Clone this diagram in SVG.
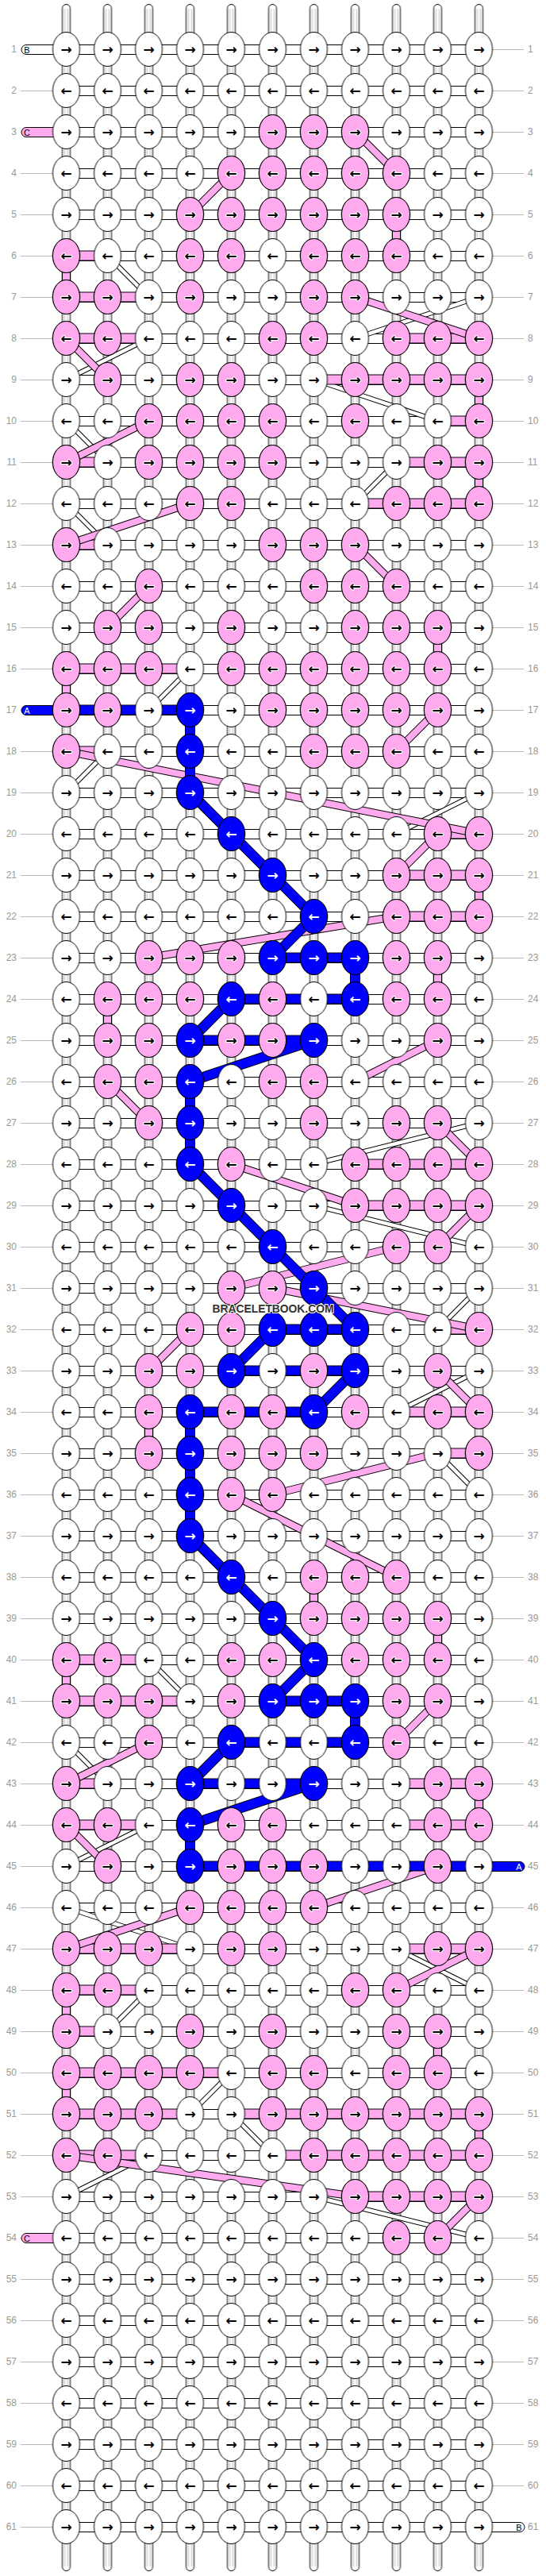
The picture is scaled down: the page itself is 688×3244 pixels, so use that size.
<svg xmlns="http://www.w3.org/2000/svg" width="688" height="3244" viewBox="0 0 688 3244">
<style>
.p{fill:#ffaaee}
.b{fill:#0000ff}
.ar{font-family:"DejaVu Sans",sans-serif;font-weight:bold;font-size:17px;text-anchor:middle;dominant-baseline:central;fill:#000;stroke:#fff;stroke-width:2px;paint-order:stroke}
.wa{fill:#fff;stroke:none}
.lb text{font-family:"Liberation Sans",Arial,sans-serif;font-size:12px;fill:#999;dominant-baseline:central}
.lb .le{text-anchor:end}
.sl{font-family:"Liberation Sans",Arial,sans-serif;font-size:11px;text-anchor:middle;dominant-baseline:central}
.wm{font-family:"Liberation Sans",Arial,sans-serif;font-weight:bold;font-size:15px;text-anchor:middle;dominant-baseline:central;fill:#333;stroke:#fff;stroke-width:2px;paint-order:stroke}
</style>
<defs>
<ellipse id="e" rx="17" ry="21.5" stroke="#000"/>
<pattern id="kp" x="57.5" y="-26" width="52" height="52" patternUnits="userSpaceOnUse"><ellipse cx="26" cy="26" rx="17" ry="21.5" fill="#fff" stroke="#000"/></pattern>
<rect id="kr" x="57.5" y="-26" width="572" height="52" fill="url(#kp)"/>
<pattern id="hpat" x="83.5" y="36" width="52" height="52" patternUnits="userSpaceOnUse"><rect y="20.5" width="52" height="12" fill="#fff"/><path d="M0 20.5H52M0 32.5H52" stroke="#000"/></pattern>
<pattern id="vpat" x="57.5" y="62" width="52" height="52" patternUnits="userSpaceOnUse"><rect x="21" width="10" height="52" fill="#fff"/><path d="M21 0V52M31 0V52" stroke="#000"/><path d="M24 0V52M28 0V52" stroke="#bbb"/></pattern>
<pattern id="tpat" x="57.5" y="0" width="52" height="60" patternUnits="userSpaceOnUse"><rect x="21" y="5.5" width="10" height="60" rx="5" fill="#fff" stroke="#000"/><path d="M24 11V60M28 11V60" stroke="#bbb"/></pattern>
<pattern id="bpat" x="57.5" y="3190" width="52" height="50" patternUnits="userSpaceOnUse"><rect x="21" y="-10" width="10" height="57.5" rx="5" fill="#fff" stroke="#000"/><path d="M24 0V42M28 0V42" stroke="#bbb"/></pattern>
<pattern id="lpat" x="0" y="36" width="688" height="52" patternUnits="userSpaceOnUse"><path d="M26 26.5H68M620 26.5H660" stroke="#bbb"/></pattern>
<path id="dw" d="M135.5 322L187.5 374M447.5 426L603.5 374M83.5 478L187.5 426M395.5 478L551.5 530M83.5 530L135.5 582M499.5 582L447.5 634M83.5 634L135.5 686M239.5 842L187.5 894M135.5 946L83.5 998M499.5 1050L603.5 998M395.5 1466L603.5 1414M395.5 1518L603.5 1570M603.5 1622L551.5 1674M499.5 1778L603.5 1726M551.5 1830L603.5 1882M187.5 2090L239.5 2142M83.5 2194L135.5 2246M83.5 2350L187.5 2298M83.5 2402L239.5 2454M499.5 2454L603.5 2506M187.5 2506L135.5 2558M291.5 2610L239.5 2662M291.5 2662L343.5 2714M83.5 2766L187.5 2714M395.5 2766L603.5 2818"/>
<path id="ph" d="M83.5 322H135.5M83.5 374H187.5M83.5 426H187.5M499.5 426H603.5M395.5 478H603.5M551.5 530H603.5M83.5 582H135.5M499.5 582H603.5M447.5 634H603.5M83.5 686H135.5M83.5 842H239.5M83.5 946H135.5M551.5 1050H603.5M499.5 1102H603.5M499.5 1154H603.5M447.5 1466H603.5M447.5 1518H603.5M551.5 1674H603.5M499.5 1778H603.5M551.5 1830H603.5M83.5 2090H187.5M83.5 2142H239.5M83.5 2246H135.5M499.5 2246H603.5M83.5 2298H187.5M499.5 2298H603.5M83.5 2454H239.5M499.5 2454H603.5M83.5 2506H187.5M83.5 2558H135.5M83.5 2610H291.5M83.5 2662H239.5M291.5 2662H603.5M83.5 2714H187.5M343.5 2714H603.5M447.5 2766H603.5"/>
<path id="pv" d="M499.5 270V322M83.5 322V374M603.5 478V530M603.5 582V634M551.5 790V842M83.5 842V894M603.5 1102V1154M551.5 1206V1258M135.5 1258V1310M187.5 1778V1830M395.5 1986V2038M551.5 2038V2090M83.5 2090V2142M603.5 2246V2298M83.5 2506V2558M551.5 2558V2610M83.5 2610V2662M603.5 2662V2714"/>
<path id="pd" d="M447.5 166L499.5 218M239.5 270L291.5 218M447.5 374L603.5 426M83.5 426L135.5 478M187.5 530L83.5 582M239.5 634L83.5 686M447.5 686L499.5 738M187.5 738L135.5 790M551.5 894L499.5 946M83.5 946L603.5 1050M551.5 1050L499.5 1102M499.5 1154L187.5 1206M551.5 1310L447.5 1362M135.5 1362L187.5 1414M551.5 1414L603.5 1466M291.5 1466L447.5 1518M603.5 1518L551.5 1570M499.5 1570L291.5 1622M343.5 1622L603.5 1674M239.5 1674L187.5 1726M551.5 1726L603.5 1778M551.5 1830L343.5 1882M291.5 1882L395.5 1934M395.5 1934L499.5 1986M551.5 2142L499.5 2194M187.5 2194L83.5 2246M83.5 2298L135.5 2350M551.5 2350L395.5 2402M239.5 2402L83.5 2454M603.5 2454L499.5 2506M83.5 2714L447.5 2766M603.5 2766L551.5 2818"/>
<path id="bl" d="M83.5 894H239.5M343.5 1206H447.5M291.5 1258H447.5M239.5 1310H395.5M343.5 1674H447.5M291.5 1726H447.5M239.5 1778H395.5M343.5 2142H447.5M291.5 2194H447.5M239.5 2246H395.5M239.5 2350H603.5M239.5 894V998M239.5 1362V1466M239.5 1778V1934M239.5 2298V2350M447.5 1206V1258M447.5 2142V2194M239.5 998L291.5 1050L343.5 1102L395.5 1154L343.5 1206M291.5 1258L239.5 1310M395.5 1310L239.5 1362M239.5 1466L291.5 1518L343.5 1570L395.5 1622L447.5 1674M343.5 1674L291.5 1726M447.5 1726L395.5 1778M239.5 1934L291.5 1986L343.5 2038L395.5 2090L343.5 2142M291.5 2194L239.5 2246M395.5 2246L239.5 2298"/>
</defs>
<rect width="688" height="3244" fill="#fff"/>
<g id="connectors" fill="none">
<rect x="0" y="36" width="688" height="3172" fill="url(#lpat)"/>
<rect x="57.5" y="0" width="572" height="50" fill="url(#tpat)"/>
<rect x="57.5" y="62" width="572" height="3120" fill="url(#vpat)"/>
<rect x="57.5" y="3190" width="572" height="50" fill="url(#bpat)"/>
<rect x="83.5" y="36" width="520" height="3172" fill="url(#hpat)"/>
<use href="#dw" stroke="#000" stroke-width="6.5"/>
<use href="#dw" stroke="#fff" stroke-width="4.5"/>
<use href="#ph" stroke="#000" stroke-width="13"/>
<use href="#ph" stroke="#ffaaee" stroke-width="11"/>
<use href="#pv" stroke="#000" stroke-width="11"/>
<use href="#pv" stroke="#ffaaee" stroke-width="9"/>
<use href="#pd" stroke="#000" stroke-width="10"/>
<use href="#pd" stroke="#ffaaee" stroke-width="8"/>
<use href="#bl" stroke="#000" stroke-width="13" stroke-linejoin="round"/>
<use href="#bl" stroke="#0000ff" stroke-width="11" stroke-linejoin="round"/>
</g>
<g id="strands">
<rect x="27" y="56.5" width="50" height="12" rx="6" fill="#fff" stroke="#000"/><text class="sl" x="34" y="62.5">B</text>
<rect x="27" y="160.5" width="50" height="12" rx="6" fill="#ffaaee" stroke="#000"/><text class="sl" x="34" y="166.5">C</text>
<rect x="27" y="888.5" width="50" height="12" rx="6" fill="#0000ff" stroke="#000"/><text class="sl" x="34" y="894.5" fill="#fff">A</text>
<rect x="27" y="2812.5" width="50" height="12" rx="6" fill="#ffaaee" stroke="#000"/><text class="sl" x="34" y="2818.5">C</text>
<rect x="611" y="2344.5" width="50" height="12" rx="6" fill="#0000ff" stroke="#000"/><text class="sl" x="654" y="2350.5" fill="#fff">A</text>
<rect x="611" y="3176.5" width="50" height="12" rx="6" fill="#fff" stroke="#000"/><text class="sl" x="654" y="3182.5">B</text>
</g>
<g id="labels" class="lb">
<text class="le" x="21" y="62">1</text><text x="665" y="62">1</text>
<text class="le" x="21" y="114">2</text><text x="665" y="114">2</text>
<text class="le" x="21" y="166">3</text><text x="665" y="166">3</text>
<text class="le" x="21" y="218">4</text><text x="665" y="218">4</text>
<text class="le" x="21" y="270">5</text><text x="665" y="270">5</text>
<text class="le" x="21" y="322">6</text><text x="665" y="322">6</text>
<text class="le" x="21" y="374">7</text><text x="665" y="374">7</text>
<text class="le" x="21" y="426">8</text><text x="665" y="426">8</text>
<text class="le" x="21" y="478">9</text><text x="665" y="478">9</text>
<text class="le" x="21" y="530">10</text><text x="665" y="530">10</text>
<text class="le" x="21" y="582">11</text><text x="665" y="582">11</text>
<text class="le" x="21" y="634">12</text><text x="665" y="634">12</text>
<text class="le" x="21" y="686">13</text><text x="665" y="686">13</text>
<text class="le" x="21" y="738">14</text><text x="665" y="738">14</text>
<text class="le" x="21" y="790">15</text><text x="665" y="790">15</text>
<text class="le" x="21" y="842">16</text><text x="665" y="842">16</text>
<text class="le" x="21" y="894">17</text><text x="665" y="894">17</text>
<text class="le" x="21" y="946">18</text><text x="665" y="946">18</text>
<text class="le" x="21" y="998">19</text><text x="665" y="998">19</text>
<text class="le" x="21" y="1050">20</text><text x="665" y="1050">20</text>
<text class="le" x="21" y="1102">21</text><text x="665" y="1102">21</text>
<text class="le" x="21" y="1154">22</text><text x="665" y="1154">22</text>
<text class="le" x="21" y="1206">23</text><text x="665" y="1206">23</text>
<text class="le" x="21" y="1258">24</text><text x="665" y="1258">24</text>
<text class="le" x="21" y="1310">25</text><text x="665" y="1310">25</text>
<text class="le" x="21" y="1362">26</text><text x="665" y="1362">26</text>
<text class="le" x="21" y="1414">27</text><text x="665" y="1414">27</text>
<text class="le" x="21" y="1466">28</text><text x="665" y="1466">28</text>
<text class="le" x="21" y="1518">29</text><text x="665" y="1518">29</text>
<text class="le" x="21" y="1570">30</text><text x="665" y="1570">30</text>
<text class="le" x="21" y="1622">31</text><text x="665" y="1622">31</text>
<text class="le" x="21" y="1674">32</text><text x="665" y="1674">32</text>
<text class="le" x="21" y="1726">33</text><text x="665" y="1726">33</text>
<text class="le" x="21" y="1778">34</text><text x="665" y="1778">34</text>
<text class="le" x="21" y="1830">35</text><text x="665" y="1830">35</text>
<text class="le" x="21" y="1882">36</text><text x="665" y="1882">36</text>
<text class="le" x="21" y="1934">37</text><text x="665" y="1934">37</text>
<text class="le" x="21" y="1986">38</text><text x="665" y="1986">38</text>
<text class="le" x="21" y="2038">39</text><text x="665" y="2038">39</text>
<text class="le" x="21" y="2090">40</text><text x="665" y="2090">40</text>
<text class="le" x="21" y="2142">41</text><text x="665" y="2142">41</text>
<text class="le" x="21" y="2194">42</text><text x="665" y="2194">42</text>
<text class="le" x="21" y="2246">43</text><text x="665" y="2246">43</text>
<text class="le" x="21" y="2298">44</text><text x="665" y="2298">44</text>
<text class="le" x="21" y="2350">45</text><text x="665" y="2350">45</text>
<text class="le" x="21" y="2402">46</text><text x="665" y="2402">46</text>
<text class="le" x="21" y="2454">47</text><text x="665" y="2454">47</text>
<text class="le" x="21" y="2506">48</text><text x="665" y="2506">48</text>
<text class="le" x="21" y="2558">49</text><text x="665" y="2558">49</text>
<text class="le" x="21" y="2610">50</text><text x="665" y="2610">50</text>
<text class="le" x="21" y="2662">51</text><text x="665" y="2662">51</text>
<text class="le" x="21" y="2714">52</text><text x="665" y="2714">52</text>
<text class="le" x="21" y="2766">53</text><text x="665" y="2766">53</text>
<text class="le" x="21" y="2818">54</text><text x="665" y="2818">54</text>
<text class="le" x="21" y="2870">55</text><text x="665" y="2870">55</text>
<text class="le" x="21" y="2922">56</text><text x="665" y="2922">56</text>
<text class="le" x="21" y="2974">57</text><text x="665" y="2974">57</text>
<text class="le" x="21" y="3026">58</text><text x="665" y="3026">58</text>
<text class="le" x="21" y="3078">59</text><text x="665" y="3078">59</text>
<text class="le" x="21" y="3130">60</text><text x="665" y="3130">60</text>
<text class="le" x="21" y="3182">61</text><text x="665" y="3182">61</text>
</g>
<g id="knots">
<g id="row1" transform="translate(0 62)"><use href="#kr"/><text class="ar" x="83.5 135.5 187.5 239.5 291.5 343.5 395.5 447.5 499.5 551.5 603.5">→→→→→→→→→→→</text></g>
<g id="row2" transform="translate(0 114)"><use href="#kr"/><text class="ar" x="83.5 135.5 187.5 239.5 291.5 343.5 395.5 447.5 499.5 551.5 603.5">←←←←←←←←←←←</text></g>
<g id="row3" transform="translate(0 166)"><use href="#kr"/><use href="#e" x="343.5" class="p"/><use href="#e" x="395.5" class="p"/><use href="#e" x="447.5" class="p"/><text class="ar" x="83.5 135.5 187.5 239.5 291.5 343.5 395.5 447.5 499.5 551.5 603.5">→→→→→→→→→→→</text></g>
<g id="row4" transform="translate(0 218)"><use href="#kr"/><use href="#e" x="291.5" class="p"/><use href="#e" x="343.5" class="p"/><use href="#e" x="395.5" class="p"/><use href="#e" x="447.5" class="p"/><use href="#e" x="499.5" class="p"/><text class="ar" x="83.5 135.5 187.5 239.5 291.5 343.5 395.5 447.5 499.5 551.5 603.5">←←←←←←←←←←←</text></g>
<g id="row5" transform="translate(0 270)"><use href="#kr"/><use href="#e" x="239.5" class="p"/><use href="#e" x="291.5" class="p"/><use href="#e" x="343.5" class="p"/><use href="#e" x="395.5" class="p"/><use href="#e" x="447.5" class="p"/><use href="#e" x="499.5" class="p"/><text class="ar" x="83.5 135.5 187.5 239.5 291.5 343.5 395.5 447.5 499.5 551.5 603.5">→→→→→→→→→→→</text></g>
<g id="row6" transform="translate(0 322)"><use href="#kr"/><use href="#e" x="83.5" class="p"/><use href="#e" x="239.5" class="p"/><use href="#e" x="291.5" class="p"/><use href="#e" x="395.5" class="p"/><use href="#e" x="447.5" class="p"/><use href="#e" x="499.5" class="p"/><text class="ar" x="83.5 135.5 187.5 239.5 291.5 343.5 395.5 447.5 499.5 551.5 603.5">←←←←←←←←←←←</text></g>
<g id="row7" transform="translate(0 374)"><use href="#kr"/><use href="#e" x="83.5" class="p"/><use href="#e" x="135.5" class="p"/><use href="#e" x="239.5" class="p"/><use href="#e" x="395.5" class="p"/><use href="#e" x="447.5" class="p"/><text class="ar" x="83.5 135.5 187.5 239.5 291.5 343.5 395.5 447.5 499.5 551.5 603.5">→→→→→→→→→→→</text></g>
<g id="row8" transform="translate(0 426)"><use href="#kr"/><use href="#e" x="83.5" class="p"/><use href="#e" x="135.5" class="p"/><use href="#e" x="343.5" class="p"/><use href="#e" x="395.5" class="p"/><use href="#e" x="499.5" class="p"/><use href="#e" x="551.5" class="p"/><use href="#e" x="603.5" class="p"/><text class="ar" x="83.5 135.5 187.5 239.5 291.5 343.5 395.5 447.5 499.5 551.5 603.5">←←←←←←←←←←←</text></g>
<g id="row9" transform="translate(0 478)"><use href="#kr"/><use href="#e" x="135.5" class="p"/><use href="#e" x="239.5" class="p"/><use href="#e" x="291.5" class="p"/><use href="#e" x="447.5" class="p"/><use href="#e" x="499.5" class="p"/><use href="#e" x="551.5" class="p"/><use href="#e" x="603.5" class="p"/><text class="ar" x="83.5 135.5 187.5 239.5 291.5 343.5 395.5 447.5 499.5 551.5 603.5">→→→→→→→→→→→</text></g>
<g id="row10" transform="translate(0 530)"><use href="#kr"/><use href="#e" x="187.5" class="p"/><use href="#e" x="239.5" class="p"/><use href="#e" x="291.5" class="p"/><use href="#e" x="343.5" class="p"/><use href="#e" x="447.5" class="p"/><use href="#e" x="603.5" class="p"/><text class="ar" x="83.5 135.5 187.5 239.5 291.5 343.5 395.5 447.5 499.5 551.5 603.5">←←←←←←←←←←←</text></g>
<g id="row11" transform="translate(0 582)"><use href="#kr"/><use href="#e" x="83.5" class="p"/><use href="#e" x="187.5" class="p"/><use href="#e" x="239.5" class="p"/><use href="#e" x="291.5" class="p"/><use href="#e" x="343.5" class="p"/><use href="#e" x="551.5" class="p"/><use href="#e" x="603.5" class="p"/><text class="ar" x="83.5 135.5 187.5 239.5 291.5 343.5 395.5 447.5 499.5 551.5 603.5">→→→→→→→→→→→</text></g>
<g id="row12" transform="translate(0 634)"><use href="#kr"/><use href="#e" x="239.5" class="p"/><use href="#e" x="291.5" class="p"/><use href="#e" x="499.5" class="p"/><use href="#e" x="551.5" class="p"/><use href="#e" x="603.5" class="p"/><text class="ar" x="83.5 135.5 187.5 239.5 291.5 343.5 395.5 447.5 499.5 551.5 603.5">←←←←←←←←←←←</text></g>
<g id="row13" transform="translate(0 686)"><use href="#kr"/><use href="#e" x="83.5" class="p"/><use href="#e" x="343.5" class="p"/><use href="#e" x="395.5" class="p"/><use href="#e" x="447.5" class="p"/><text class="ar" x="83.5 135.5 187.5 239.5 291.5 343.5 395.5 447.5 499.5 551.5 603.5">→→→→→→→→→→→</text></g>
<g id="row14" transform="translate(0 738)"><use href="#kr"/><use href="#e" x="187.5" class="p"/><use href="#e" x="395.5" class="p"/><use href="#e" x="447.5" class="p"/><use href="#e" x="499.5" class="p"/><text class="ar" x="83.5 135.5 187.5 239.5 291.5 343.5 395.5 447.5 499.5 551.5 603.5">←←←←←←←←←←←</text></g>
<g id="row15" transform="translate(0 790)"><use href="#kr"/><use href="#e" x="135.5" class="p"/><use href="#e" x="187.5" class="p"/><use href="#e" x="291.5" class="p"/><use href="#e" x="447.5" class="p"/><use href="#e" x="499.5" class="p"/><use href="#e" x="551.5" class="p"/><text class="ar" x="83.5 135.5 187.5 239.5 291.5 343.5 395.5 447.5 499.5 551.5 603.5">→→→→→→→→→→→</text></g>
<g id="row16" transform="translate(0 842)"><use href="#kr"/><use href="#e" x="83.5" class="p"/><use href="#e" x="135.5" class="p"/><use href="#e" x="187.5" class="p"/><use href="#e" x="291.5" class="p"/><use href="#e" x="343.5" class="p"/><use href="#e" x="395.5" class="p"/><use href="#e" x="447.5" class="p"/><use href="#e" x="499.5" class="p"/><use href="#e" x="551.5" class="p"/><text class="ar" x="83.5 135.5 187.5 239.5 291.5 343.5 395.5 447.5 499.5 551.5 603.5">←←←←←←←←←←←</text></g>
<g id="row17" transform="translate(0 894)"><use href="#kr"/><use href="#e" x="83.5" class="p"/><use href="#e" x="135.5" class="p"/><use href="#e" x="239.5" class="b"/><use href="#e" x="343.5" class="p"/><use href="#e" x="395.5" class="p"/><use href="#e" x="447.5" class="p"/><use href="#e" x="499.5" class="p"/><use href="#e" x="551.5" class="p"/><text class="ar" x="83.5 135.5 187.5 239.5 291.5 343.5 395.5 447.5 499.5 551.5 603.5">→→→<tspan class="wa">→</tspan>→→→→→→→</text></g>
<g id="row18" transform="translate(0 946)"><use href="#kr"/><use href="#e" x="83.5" class="p"/><use href="#e" x="239.5" class="b"/><use href="#e" x="395.5" class="p"/><use href="#e" x="447.5" class="p"/><use href="#e" x="499.5" class="p"/><text class="ar" x="83.5 135.5 187.5 239.5 291.5 343.5 395.5 447.5 499.5 551.5 603.5">←←←<tspan class="wa">←</tspan>←←←←←←←</text></g>
<g id="row19" transform="translate(0 998)"><use href="#kr"/><use href="#e" x="239.5" class="b"/><text class="ar" x="83.5 135.5 187.5 239.5 291.5 343.5 395.5 447.5 499.5 551.5 603.5">→→→<tspan class="wa">→</tspan>→→→→→→→</text></g>
<g id="row20" transform="translate(0 1050)"><use href="#kr"/><use href="#e" x="291.5" class="b"/><use href="#e" x="551.5" class="p"/><use href="#e" x="603.5" class="p"/><text class="ar" x="83.5 135.5 187.5 239.5 291.5 343.5 395.5 447.5 499.5 551.5 603.5">←←←←<tspan class="wa">←</tspan>←←←←←←</text></g>
<g id="row21" transform="translate(0 1102)"><use href="#kr"/><use href="#e" x="343.5" class="b"/><use href="#e" x="499.5" class="p"/><use href="#e" x="551.5" class="p"/><use href="#e" x="603.5" class="p"/><text class="ar" x="83.5 135.5 187.5 239.5 291.5 343.5 395.5 447.5 499.5 551.5 603.5">→→→→→<tspan class="wa">→</tspan>→→→→→</text></g>
<g id="row22" transform="translate(0 1154)"><use href="#kr"/><use href="#e" x="395.5" class="b"/><use href="#e" x="499.5" class="p"/><use href="#e" x="551.5" class="p"/><use href="#e" x="603.5" class="p"/><text class="ar" x="83.5 135.5 187.5 239.5 291.5 343.5 395.5 447.5 499.5 551.5 603.5">←←←←←←<tspan class="wa">←</tspan>←←←←</text></g>
<g id="row23" transform="translate(0 1206)"><use href="#kr"/><use href="#e" x="187.5" class="p"/><use href="#e" x="239.5" class="p"/><use href="#e" x="291.5" class="p"/><use href="#e" x="343.5" class="b"/><use href="#e" x="395.5" class="b"/><use href="#e" x="447.5" class="b"/><use href="#e" x="499.5" class="p"/><use href="#e" x="551.5" class="p"/><text class="ar" x="83.5 135.5 187.5 239.5 291.5 343.5 395.5 447.5 499.5 551.5 603.5">→→→→→<tspan class="wa">→→→</tspan>→→→</text></g>
<g id="row24" transform="translate(0 1258)"><use href="#kr"/><use href="#e" x="135.5" class="p"/><use href="#e" x="187.5" class="p"/><use href="#e" x="239.5" class="p"/><use href="#e" x="291.5" class="b"/><use href="#e" x="343.5" class="p"/><use href="#e" x="447.5" class="b"/><use href="#e" x="499.5" class="p"/><use href="#e" x="551.5" class="p"/><text class="ar" x="83.5 135.5 187.5 239.5 291.5 343.5 395.5 447.5 499.5 551.5 603.5">←←←←<tspan class="wa">←</tspan>←←<tspan class="wa">←</tspan>←←←</text></g>
<g id="row25" transform="translate(0 1310)"><use href="#kr"/><use href="#e" x="135.5" class="p"/><use href="#e" x="187.5" class="p"/><use href="#e" x="239.5" class="b"/><use href="#e" x="291.5" class="p"/><use href="#e" x="343.5" class="p"/><use href="#e" x="395.5" class="b"/><use href="#e" x="551.5" class="p"/><text class="ar" x="83.5 135.5 187.5 239.5 291.5 343.5 395.5 447.5 499.5 551.5 603.5">→→→<tspan class="wa">→</tspan>→→<tspan class="wa">→</tspan>→→→→</text></g>
<g id="row26" transform="translate(0 1362)"><use href="#kr"/><use href="#e" x="135.5" class="p"/><use href="#e" x="187.5" class="p"/><use href="#e" x="239.5" class="b"/><use href="#e" x="343.5" class="p"/><use href="#e" x="395.5" class="p"/><text class="ar" x="83.5 135.5 187.5 239.5 291.5 343.5 395.5 447.5 499.5 551.5 603.5">←←←<tspan class="wa">←</tspan>←←←←←←←</text></g>
<g id="row27" transform="translate(0 1414)"><use href="#kr"/><use href="#e" x="187.5" class="p"/><use href="#e" x="239.5" class="b"/><use href="#e" x="395.5" class="p"/><use href="#e" x="499.5" class="p"/><use href="#e" x="551.5" class="p"/><text class="ar" x="83.5 135.5 187.5 239.5 291.5 343.5 395.5 447.5 499.5 551.5 603.5">→→→<tspan class="wa">→</tspan>→→→→→→→</text></g>
<g id="row28" transform="translate(0 1466)"><use href="#kr"/><use href="#e" x="239.5" class="b"/><use href="#e" x="291.5" class="p"/><use href="#e" x="447.5" class="p"/><use href="#e" x="499.5" class="p"/><use href="#e" x="551.5" class="p"/><use href="#e" x="603.5" class="p"/><text class="ar" x="83.5 135.5 187.5 239.5 291.5 343.5 395.5 447.5 499.5 551.5 603.5">←←←<tspan class="wa">←</tspan>←←←←←←←</text></g>
<g id="row29" transform="translate(0 1518)"><use href="#kr"/><use href="#e" x="291.5" class="b"/><use href="#e" x="447.5" class="p"/><use href="#e" x="499.5" class="p"/><use href="#e" x="551.5" class="p"/><use href="#e" x="603.5" class="p"/><text class="ar" x="83.5 135.5 187.5 239.5 291.5 343.5 395.5 447.5 499.5 551.5 603.5">→→→→<tspan class="wa">→</tspan>→→→→→→</text></g>
<g id="row30" transform="translate(0 1570)"><use href="#kr"/><use href="#e" x="343.5" class="b"/><use href="#e" x="499.5" class="p"/><use href="#e" x="551.5" class="p"/><text class="ar" x="83.5 135.5 187.5 239.5 291.5 343.5 395.5 447.5 499.5 551.5 603.5">←←←←←<tspan class="wa">←</tspan>←←←←←</text></g>
<g id="row31" transform="translate(0 1622)"><use href="#kr"/><use href="#e" x="291.5" class="p"/><use href="#e" x="343.5" class="p"/><use href="#e" x="395.5" class="b"/><text class="ar" x="83.5 135.5 187.5 239.5 291.5 343.5 395.5 447.5 499.5 551.5 603.5">→→→→→→<tspan class="wa">→</tspan>→→→→</text></g>
<g id="row32" transform="translate(0 1674)"><use href="#kr"/><use href="#e" x="239.5" class="p"/><use href="#e" x="291.5" class="p"/><use href="#e" x="343.5" class="b"/><use href="#e" x="395.5" class="b"/><use href="#e" x="447.5" class="b"/><use href="#e" x="603.5" class="p"/><text class="ar" x="83.5 135.5 187.5 239.5 291.5 343.5 395.5 447.5 499.5 551.5 603.5">←←←←←<tspan class="wa">←←←</tspan>←←←</text></g>
<g id="row33" transform="translate(0 1726)"><use href="#kr"/><use href="#e" x="187.5" class="p"/><use href="#e" x="239.5" class="p"/><use href="#e" x="291.5" class="b"/><use href="#e" x="395.5" class="p"/><use href="#e" x="447.5" class="b"/><use href="#e" x="551.5" class="p"/><text class="ar" x="83.5 135.5 187.5 239.5 291.5 343.5 395.5 447.5 499.5 551.5 603.5">→→→→<tspan class="wa">→</tspan>→→<tspan class="wa">→</tspan>→→→</text></g>
<g id="row34" transform="translate(0 1778)"><use href="#kr"/><use href="#e" x="187.5" class="p"/><use href="#e" x="239.5" class="b"/><use href="#e" x="291.5" class="p"/><use href="#e" x="343.5" class="p"/><use href="#e" x="395.5" class="b"/><use href="#e" x="447.5" class="p"/><use href="#e" x="551.5" class="p"/><use href="#e" x="603.5" class="p"/><text class="ar" x="83.5 135.5 187.5 239.5 291.5 343.5 395.5 447.5 499.5 551.5 603.5">←←←<tspan class="wa">←</tspan>←←<tspan class="wa">←</tspan>←←←←</text></g>
<g id="row35" transform="translate(0 1830)"><use href="#kr"/><use href="#e" x="187.5" class="p"/><use href="#e" x="239.5" class="b"/><use href="#e" x="291.5" class="p"/><use href="#e" x="343.5" class="p"/><use href="#e" x="395.5" class="p"/><use href="#e" x="603.5" class="p"/><text class="ar" x="83.5 135.5 187.5 239.5 291.5 343.5 395.5 447.5 499.5 551.5 603.5">→→→<tspan class="wa">→</tspan>→→→→→→→</text></g>
<g id="row36" transform="translate(0 1882)"><use href="#kr"/><use href="#e" x="239.5" class="b"/><use href="#e" x="291.5" class="p"/><use href="#e" x="343.5" class="p"/><text class="ar" x="83.5 135.5 187.5 239.5 291.5 343.5 395.5 447.5 499.5 551.5 603.5">←←←<tspan class="wa">←</tspan>←←←←←←←</text></g>
<g id="row37" transform="translate(0 1934)"><use href="#kr"/><use href="#e" x="239.5" class="b"/><text class="ar" x="83.5 135.5 187.5 239.5 291.5 343.5 395.5 447.5 499.5 551.5 603.5">→→→<tspan class="wa">→</tspan>→→→→→→→</text></g>
<g id="row38" transform="translate(0 1986)"><use href="#kr"/><use href="#e" x="291.5" class="b"/><use href="#e" x="395.5" class="p"/><use href="#e" x="447.5" class="p"/><use href="#e" x="499.5" class="p"/><text class="ar" x="83.5 135.5 187.5 239.5 291.5 343.5 395.5 447.5 499.5 551.5 603.5">←←←←<tspan class="wa">←</tspan>←←←←←←</text></g>
<g id="row39" transform="translate(0 2038)"><use href="#kr"/><use href="#e" x="343.5" class="b"/><use href="#e" x="395.5" class="p"/><use href="#e" x="447.5" class="p"/><use href="#e" x="499.5" class="p"/><use href="#e" x="551.5" class="p"/><text class="ar" x="83.5 135.5 187.5 239.5 291.5 343.5 395.5 447.5 499.5 551.5 603.5">→→→→→<tspan class="wa">→</tspan>→→→→→</text></g>
<g id="row40" transform="translate(0 2090)"><use href="#kr"/><use href="#e" x="83.5" class="p"/><use href="#e" x="135.5" class="p"/><use href="#e" x="291.5" class="p"/><use href="#e" x="343.5" class="p"/><use href="#e" x="395.5" class="b"/><use href="#e" x="447.5" class="p"/><use href="#e" x="499.5" class="p"/><use href="#e" x="551.5" class="p"/><text class="ar" x="83.5 135.5 187.5 239.5 291.5 343.5 395.5 447.5 499.5 551.5 603.5">←←←←←←<tspan class="wa">←</tspan>←←←←</text></g>
<g id="row41" transform="translate(0 2142)"><use href="#kr"/><use href="#e" x="83.5" class="p"/><use href="#e" x="135.5" class="p"/><use href="#e" x="187.5" class="p"/><use href="#e" x="291.5" class="p"/><use href="#e" x="343.5" class="b"/><use href="#e" x="395.5" class="b"/><use href="#e" x="447.5" class="b"/><use href="#e" x="499.5" class="p"/><use href="#e" x="551.5" class="p"/><text class="ar" x="83.5 135.5 187.5 239.5 291.5 343.5 395.5 447.5 499.5 551.5 603.5">→→→→→<tspan class="wa">→→→</tspan>→→→</text></g>
<g id="row42" transform="translate(0 2194)"><use href="#kr"/><use href="#e" x="187.5" class="p"/><use href="#e" x="291.5" class="b"/><use href="#e" x="447.5" class="b"/><use href="#e" x="499.5" class="p"/><text class="ar" x="83.5 135.5 187.5 239.5 291.5 343.5 395.5 447.5 499.5 551.5 603.5">←←←←<tspan class="wa">←</tspan>←←<tspan class="wa">←</tspan>←←←</text></g>
<g id="row43" transform="translate(0 2246)"><use href="#kr"/><use href="#e" x="83.5" class="p"/><use href="#e" x="239.5" class="b"/><use href="#e" x="395.5" class="b"/><use href="#e" x="551.5" class="p"/><use href="#e" x="603.5" class="p"/><text class="ar" x="83.5 135.5 187.5 239.5 291.5 343.5 395.5 447.5 499.5 551.5 603.5">→→→<tspan class="wa">→</tspan>→→<tspan class="wa">→</tspan>→→→→</text></g>
<g id="row44" transform="translate(0 2298)"><use href="#kr"/><use href="#e" x="83.5" class="p"/><use href="#e" x="135.5" class="p"/><use href="#e" x="239.5" class="b"/><use href="#e" x="291.5" class="p"/><use href="#e" x="343.5" class="p"/><use href="#e" x="551.5" class="p"/><use href="#e" x="603.5" class="p"/><text class="ar" x="83.5 135.5 187.5 239.5 291.5 343.5 395.5 447.5 499.5 551.5 603.5">←←←<tspan class="wa">←</tspan>←←←←←←←</text></g>
<g id="row45" transform="translate(0 2350)"><use href="#kr"/><use href="#e" x="135.5" class="p"/><use href="#e" x="239.5" class="b"/><use href="#e" x="291.5" class="p"/><use href="#e" x="343.5" class="p"/><use href="#e" x="395.5" class="p"/><use href="#e" x="551.5" class="p"/><text class="ar" x="83.5 135.5 187.5 239.5 291.5 343.5 395.5 447.5 499.5 551.5 603.5">→→→<tspan class="wa">→</tspan>→→→→→→→</text></g>
<g id="row46" transform="translate(0 2402)"><use href="#kr"/><use href="#e" x="239.5" class="p"/><use href="#e" x="291.5" class="p"/><use href="#e" x="343.5" class="p"/><use href="#e" x="395.5" class="p"/><text class="ar" x="83.5 135.5 187.5 239.5 291.5 343.5 395.5 447.5 499.5 551.5 603.5">←←←←←←←←←←←</text></g>
<g id="row47" transform="translate(0 2454)"><use href="#kr"/><use href="#e" x="83.5" class="p"/><use href="#e" x="135.5" class="p"/><use href="#e" x="187.5" class="p"/><use href="#e" x="291.5" class="p"/><use href="#e" x="343.5" class="p"/><use href="#e" x="551.5" class="p"/><use href="#e" x="603.5" class="p"/><text class="ar" x="83.5 135.5 187.5 239.5 291.5 343.5 395.5 447.5 499.5 551.5 603.5">→→→→→→→→→→→</text></g>
<g id="row48" transform="translate(0 2506)"><use href="#kr"/><use href="#e" x="83.5" class="p"/><use href="#e" x="135.5" class="p"/><use href="#e" x="447.5" class="p"/><use href="#e" x="499.5" class="p"/><text class="ar" x="83.5 135.5 187.5 239.5 291.5 343.5 395.5 447.5 499.5 551.5 603.5">←←←←←←←←←←←</text></g>
<g id="row49" transform="translate(0 2558)"><use href="#kr"/><use href="#e" x="83.5" class="p"/><use href="#e" x="239.5" class="p"/><use href="#e" x="343.5" class="p"/><use href="#e" x="499.5" class="p"/><use href="#e" x="551.5" class="p"/><text class="ar" x="83.5 135.5 187.5 239.5 291.5 343.5 395.5 447.5 499.5 551.5 603.5">→→→→→→→→→→→</text></g>
<g id="row50" transform="translate(0 2610)"><use href="#kr"/><use href="#e" x="83.5" class="p"/><use href="#e" x="135.5" class="p"/><use href="#e" x="187.5" class="p"/><use href="#e" x="239.5" class="p"/><use href="#e" x="343.5" class="p"/><use href="#e" x="395.5" class="p"/><use href="#e" x="499.5" class="p"/><use href="#e" x="551.5" class="p"/><text class="ar" x="83.5 135.5 187.5 239.5 291.5 343.5 395.5 447.5 499.5 551.5 603.5">←←←←←←←←←←←</text></g>
<g id="row51" transform="translate(0 2662)"><use href="#kr"/><use href="#e" x="83.5" class="p"/><use href="#e" x="135.5" class="p"/><use href="#e" x="187.5" class="p"/><use href="#e" x="343.5" class="p"/><use href="#e" x="395.5" class="p"/><use href="#e" x="447.5" class="p"/><use href="#e" x="499.5" class="p"/><use href="#e" x="551.5" class="p"/><use href="#e" x="603.5" class="p"/><text class="ar" x="83.5 135.5 187.5 239.5 291.5 343.5 395.5 447.5 499.5 551.5 603.5">→→→→→→→→→→→</text></g>
<g id="row52" transform="translate(0 2714)"><use href="#kr"/><use href="#e" x="83.5" class="p"/><use href="#e" x="135.5" class="p"/><use href="#e" x="395.5" class="p"/><use href="#e" x="447.5" class="p"/><use href="#e" x="499.5" class="p"/><use href="#e" x="551.5" class="p"/><use href="#e" x="603.5" class="p"/><text class="ar" x="83.5 135.5 187.5 239.5 291.5 343.5 395.5 447.5 499.5 551.5 603.5">←←←←←←←←←←←</text></g>
<g id="row53" transform="translate(0 2766)"><use href="#kr"/><use href="#e" x="447.5" class="p"/><use href="#e" x="499.5" class="p"/><use href="#e" x="551.5" class="p"/><use href="#e" x="603.5" class="p"/><text class="ar" x="83.5 135.5 187.5 239.5 291.5 343.5 395.5 447.5 499.5 551.5 603.5">→→→→→→→→→→→</text></g>
<g id="row54" transform="translate(0 2818)"><use href="#kr"/><use href="#e" x="499.5" class="p"/><use href="#e" x="551.5" class="p"/><text class="ar" x="83.5 135.5 187.5 239.5 291.5 343.5 395.5 447.5 499.5 551.5 603.5">←←←←←←←←←←←</text></g>
<g id="row55" transform="translate(0 2870)"><use href="#kr"/><text class="ar" x="83.5 135.5 187.5 239.5 291.5 343.5 395.5 447.5 499.5 551.5 603.5">→→→→→→→→→→→</text></g>
<g id="row56" transform="translate(0 2922)"><use href="#kr"/><text class="ar" x="83.5 135.5 187.5 239.5 291.5 343.5 395.5 447.5 499.5 551.5 603.5">←←←←←←←←←←←</text></g>
<g id="row57" transform="translate(0 2974)"><use href="#kr"/><text class="ar" x="83.5 135.5 187.5 239.5 291.5 343.5 395.5 447.5 499.5 551.5 603.5">→→→→→→→→→→→</text></g>
<g id="row58" transform="translate(0 3026)"><use href="#kr"/><text class="ar" x="83.5 135.5 187.5 239.5 291.5 343.5 395.5 447.5 499.5 551.5 603.5">←←←←←←←←←←←</text></g>
<g id="row59" transform="translate(0 3078)"><use href="#kr"/><text class="ar" x="83.5 135.5 187.5 239.5 291.5 343.5 395.5 447.5 499.5 551.5 603.5">→→→→→→→→→→→</text></g>
<g id="row60" transform="translate(0 3130)"><use href="#kr"/><text class="ar" x="83.5 135.5 187.5 239.5 291.5 343.5 395.5 447.5 499.5 551.5 603.5">←←←←←←←←←←←</text></g>
<g id="row61" transform="translate(0 3182)"><use href="#kr"/><text class="ar" x="83.5 135.5 187.5 239.5 291.5 343.5 395.5 447.5 499.5 551.5 603.5">→→→→→→→→→→→</text></g>
</g>
<text class="wm" x="344" y="1647" textLength="153" lengthAdjust="spacingAndGlyphs">BRACELETBOOK.COM</text>
</svg>
